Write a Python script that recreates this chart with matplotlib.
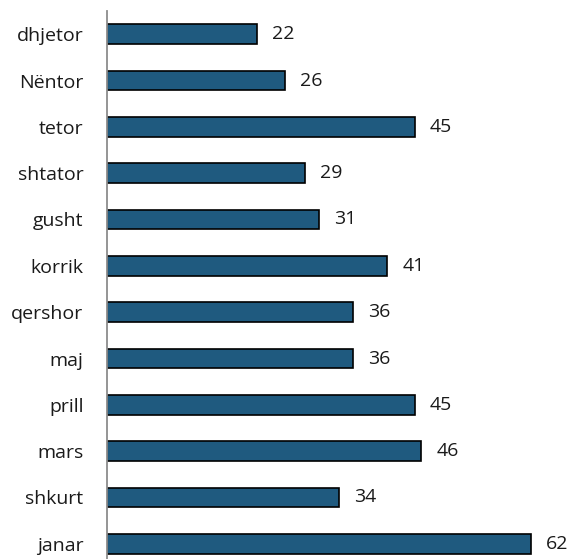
import matplotlib
matplotlib.use('Agg')
import matplotlib.pyplot as plt

# Данные: месяцы (снизу вверх) и значения
months = ['janar', 'shkurt', 'mars', 'prill', 'maj', 'qershor',
          'korrik', 'gusht', 'shtator', 'tetor', 'Nëntor', 'dhjetor']
values = [62, 34, 46, 45, 36, 36, 41, 31, 29, 45, 26, 22]

plt.rcParams['font.family'] = ['Open Sans', 'DejaVu Sans']

fig = plt.figure(figsize=(5.71, 5.59), dpi=100)
ax = fig.add_axes([107 / 571, -8 / 559, 451 / 571, 556 / 559])

pos = range(len(months))
ax.barh(pos, values, height=0.43, color='#1F5A7F', edgecolor='black', linewidth=1.2)

for y, v in zip(pos, values):
    ax.text(v + 2.2, y, str(v), va='center', ha='left', fontsize=14, color='#1a1a1a')

ax.set_yticks(list(pos))
ax.set_yticklabels(months, fontsize=14, color='#1a1a1a')
ax.set_xlim(0, 66)
ax.set_ylim(-0.5, len(months) - 0.5)
ax.set_xticks([])
ax.tick_params(axis='y', length=0, pad=17)
for s in ['top', 'right', 'bottom']:
    ax.spines[s].set_visible(False)
ax.spines['left'].set_color('#8c8c8c')
ax.spines['left'].set_linewidth(1.3)

fig.savefig('out.png', dpi=100)
